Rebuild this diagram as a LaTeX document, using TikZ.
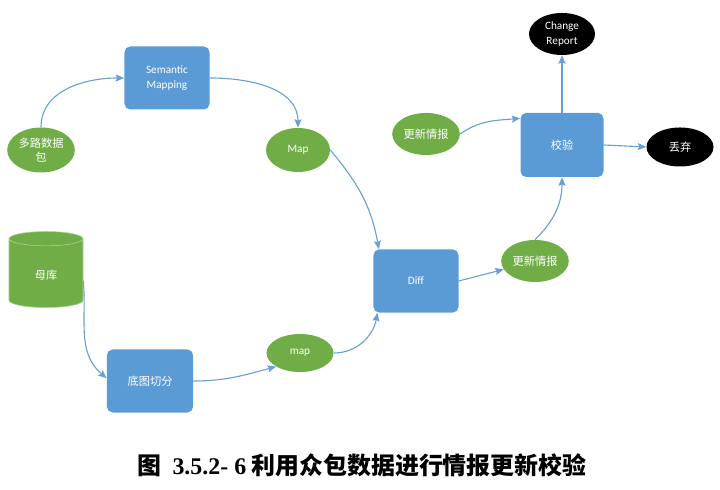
\documentclass[tikz,border=0pt]{standalone}
\usepackage{fontspec}
\setmainfont{Liberation Serif}
\setsansfont{Carlito}
\newfontfamily\cjk{Noto Sans CJK SC}
\usepackage{xcolor}
\usepackage{tikz}
\usetikzlibrary{arrows.meta,shapes.geometric}
\definecolor{boxblue}{HTML}{5B9BD5}
\definecolor{leafgreen}{HTML}{70AD47}
\definecolor{linkblue}{HTML}{6A9FD6}

\begin{document}
\begin{tikzpicture}[x=0.025cm,y=0.025cm,>={Stealth[length=6pt,width=5pt,inset=1pt]},
  box/.style={rectangle,rounded corners=4pt,fill=boxblue,text=white,minimum width=2.125cm,minimum height=1.575cm,align=center,font=\sffamily\fontsize{8}{10.5}\selectfont},
  leaf/.style={ellipse,fill=leafgreen,text=white,minimum width=1.65cm,minimum height=1.05cm,inner sep=1pt,align=center,font=\sffamily\fontsize{8}{10.5}\selectfont},
  sink/.style={leaf,fill=black},
  link/.style={->,linkblue,line width=0.8pt}]
\useasboundingbox (0,0) rectangle (720,490);
% nodes
\node[box] (sem) at (167,412) {Semantic\\Mapping};
\node[leaf,minimum width=1.675cm,minimum height=1.125cm] (multi) at (41,340) {\cjk 多路数据\\\cjk 包};
\node[leaf,minimum width=1.6cm,minimum height=1.1cm] (map1) at (298,340) {Map};
\node[leaf] (upd1) at (426,356) {\cjk 更新情报};
\node[box,minimum width=2.075cm,minimum height=1.6cm] (check) at (562,345) {\cjk 校验};
\node[sink] (report) at (562,456) {Change\\Report};
\node[sink,minimum width=1.675cm,minimum height=0.975cm] (drop) at (680,343) {\cjk 丢弃};
\node[cylinder,shape border rotate=90,aspect=0.45,fill=leafgreen,draw=leafgreen!55!white,line width=0.4pt,text=white,minimum width=1.85cm,minimum height=1.9cm,font=\fontsize{8}{10.5}\selectfont] (base) at (46,215) {\cjk 母库};
\node[box,minimum width=2.15cm] (cut) at (150,109) {\cjk 底图切分};
\node[leaf,minimum width=1.675cm,minimum height=0.95cm] (map2) at (300,137) {map};
\node[box] (diff) at (416,209) {Diff};
\node[leaf] (upd2) at (535,229) {\cjk 更新情报};
% links
\draw[link] (multi.north) to[out=90,in=180] (sem.west);
\draw[link] (sem.east) to[out=0,in=90] (map1.north);
\draw[link] (map1.east) to[out=-50,in=100] ([xshift=4pt]diff.north west);
\draw[link] ([yshift=-4pt]base.east) to[out=-85,in=140] ([yshift=2pt]cut.west);
\draw[link] (cut.east) to[out=0,in=195] (map2.south west);
\draw[link] (map2.east) to[out=0,in=-100] ([xshift=3pt]diff.south west);
\draw[link] (diff.east) -- (upd2.195);
\draw[link] (upd2.north) to[out=45,in=-90] (check.south);
\draw[link] (upd1.east) to[out=35,in=185] ([yshift=-4pt]check.north west);
\draw[link] (check.north) -- (report.south);
\draw[link] (check.east) -- (drop.west);
% caption
\node[font=\fontsize{17}{20}\selectfont] (cap) at (362,25) {\cjk\bfseries 图\ \ {\rmfamily\bfseries 3.5.2- 6} 利用众包数据进行情报更新校验};
\end{tikzpicture}
\end{document}
